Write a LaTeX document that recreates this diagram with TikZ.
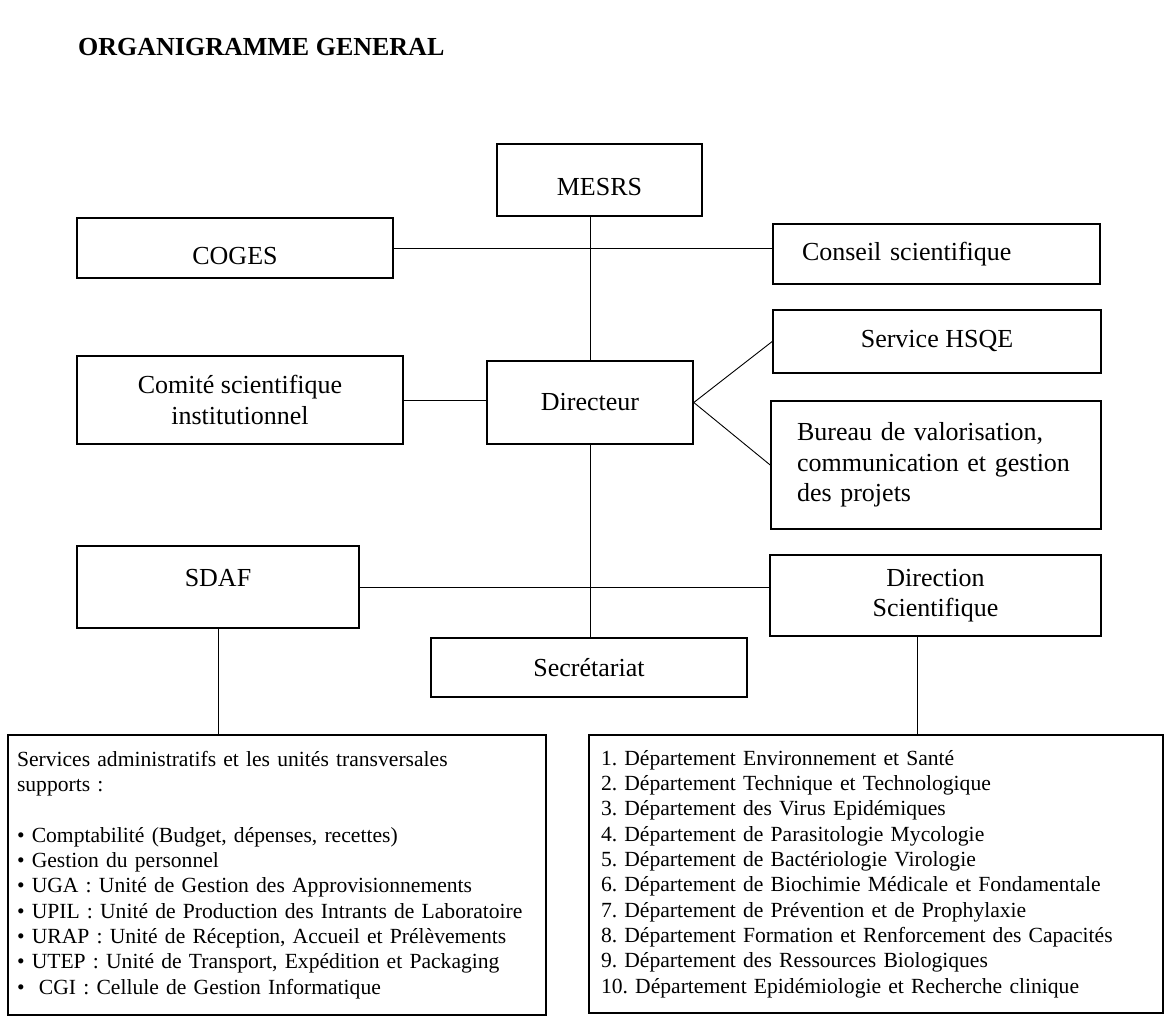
\documentclass[tikz,border=0pt]{standalone}
\usepackage{fontspec}
\setmainfont{Liberation Serif}
\frenchspacing

\begin{document}
\begin{tikzpicture}[
    x=1pt, y=-1pt,
    unit/.style={rectangle, draw, line width=1.6pt, align=center, inner sep=0pt, font=\fontsize{26}{30.5}\selectfont},
    listbox/.style={rectangle, draw, line width=1.6pt, align=left, inner ysep=0pt, font=\fontsize{21.6}{25.3}\selectfont},
    link/.style={line width=0.9pt}
]

% Background
\useasboundingbox[fill=white] (0,0) rectangle (1170,1032);

% Title
\node[anchor=west, inner sep=0pt, font=\fontsize{26}{30}\selectfont\bfseries] (title) at (78,47) {ORGANIGRAMME GENERAL};

% Top level
\node[unit, minimum width=205pt, minimum height=72pt, text height=32pt] (mesrs) at (599.5,180) {MESRS};
\node[unit, minimum width=316pt, minimum height=60pt, text height=33pt] (coges) at (235,248) {COGES};
\node[unit, text width=269pt, inner xsep=29pt, minimum height=60pt, align=left] (conseil) at (936.5,254) {Conseil scientifique};

% Direction
\node[unit, minimum width=326pt, minimum height=88pt] (comite) at (240,400) {Comit\'e scientifique\\institutionnel};
\node[unit, minimum width=206pt, minimum height=83pt] (directeur) at (590,402.5) {Directeur};
\node[unit, minimum width=328pt, minimum height=63pt] (hsqe) at (937,341.5) {Service HSQE};
\node[unit, text width=278pt, inner xsep=26pt, minimum height=128pt, align=left] (bureau) at (936,465) {Bureau de valorisation,\\communication et gestion\\des projets};

% Second level
\node[unit, minimum width=282pt, minimum height=82pt, text depth=18pt] (sdaf) at (218,587) {SDAF};
\node[unit, minimum width=331pt, minimum height=81pt] (direction) at (935.5,595.5) {Direction\\Scientifique};
\node[unit, minimum width=316pt, minimum height=59pt] (secretariat) at (589,667.5) {Secr\'etariat};

% Services and departments
\node[listbox, text width=520pt, inner xsep=9pt, minimum height=280pt] (services) at (277,875) {Services administratifs et les unit\'es transversales\\supports :\\[25.3pt]
\textbullet{} Comptabilit\'e (Budget, d\'epenses, recettes)\\
\textbullet{} Gestion du personnel\\
\textbullet{} UGA : Unit\'e de Gestion des Approvisionnements\\
\textbullet{} UPIL : Unit\'e de Production des Intrants de Laboratoire\\
\textbullet{} URAP : Unit\'e de R\'eception, Accueil et Pr\'el\`evements\\
\textbullet{} UTEP : Unit\'e de Transport, Exp\'edition et Packaging\\
\textbullet{}\ \ CGI : Cellule de Gestion Informatique};

\node[listbox, text width=550pt, inner xsep=12pt, minimum height=278pt] (depts) at (876,874) {1. D\'epartement Environnement et Sant\'e\\
2. D\'epartement Technique et Technologique\\
3. D\'epartement des Virus Epid\'emiques\\
4. D\'epartement de Parasitologie Mycologie\\
5. D\'epartement de Bact\'eriologie Virologie\\
6. D\'epartement de Biochimie M\'edicale et Fondamentale\\
7. D\'epartement de Pr\'evention et de Prophylaxie\\
8. D\'epartement Formation et Renforcement des Capacit\'es\\
9. D\'epartement des Ressources Biologiques\\
10. D\'epartement Epid\'emiologie et Recherche clinique};

% Connections
\draw[link] (coges.east) -- (coges.east -| conseil.west);
\draw[link] (directeur.north) -- (directeur.north |- mesrs.south);
\draw[link] (comite.east) -- (comite.east -| directeur.west);
\draw[link] (directeur.east) -- (hsqe.west);
\draw[link] (directeur.east) -- (bureau.west);
\draw[link] (directeur.south) -- (directeur.south |- secretariat.north);
\draw[link] (sdaf.east) -- (sdaf.east -| direction.west);
\draw[link] (sdaf.south) -- (sdaf.south |- services.north);
\draw[link] ([xshift=-18pt]direction.south) -- ([xshift=-18pt]direction.south |- depts.north);

\end{tikzpicture}
\end{document}
